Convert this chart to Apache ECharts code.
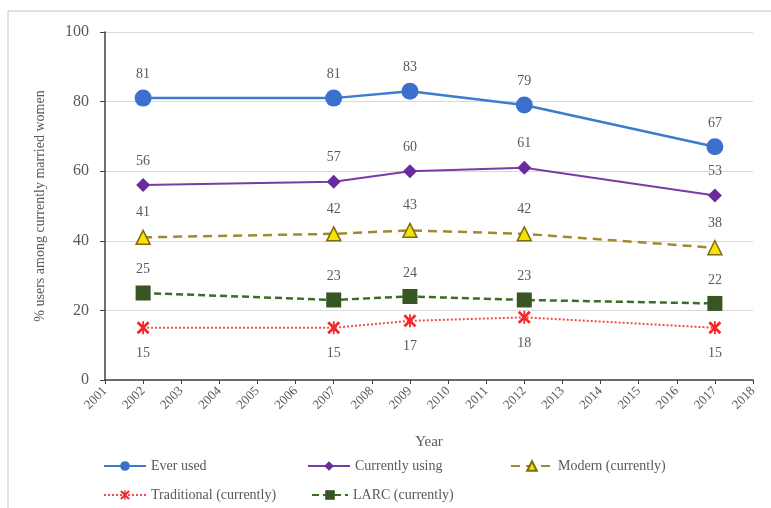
<!DOCTYPE html>
<html>
<head>
<meta charset="utf-8">
<script src="https://cdn.jsdelivr.net/npm/echarts@6/dist/echarts.min.js"></script>
<style>html,body{margin:0;padding:0;background:#fff;}#c{width:771px;height:508px;}</style>
</head>
<body>
<div id="c"></div>
<script>
const years = [2002, 2007, 2009, 2012, 2017];
const everUsed = [81, 81, 83, 79, 67];
const currentlyUsing = [56, 57, 60, 61, 53];
const modern = [41, 42, 43, 42, 38];
const traditional = [15, 15, 17, 18, 15];
const larc = [25, 23, 24, 23, 22];
const seriesNames = ['Ever used', 'Currently using', 'Modern (currently)', 'Traditional (currently)', 'LARC (currently)'];

const FONT = '"Liberation Serif", "DejaVu Serif", serif';
const TXT = '#595959';
const pairs = arr => years.map((y, i) => [y, arr[i]]);
const xStar = 'path://M0,1.5L1.5,0L5,3.5L8.5,0L10,1.5L6.5,5L10,8.5L8.5,10L5,6.5L1.5,10L0,8.5L3.5,5Z M4.3,0L5.7,0L5.7,10L4.3,10Z';

const lbl = (pos, dist) => ({show: true, position: pos, distance: dist, color: TXT, fontFamily: FONT, fontSize: 14});

const chart = echarts.init(document.getElementById('c'));
chart.setOption({
  animation: false,
  backgroundColor: '#fff',
  graphic: [{type: 'rect', shape: {x: 8, y: 11, width: 800, height: 520}, style: {fill: 'none', stroke: '#d9d9d9', lineWidth: 1.5}, silent: true}],
  grid: {left: 105, right: 18, top: 32, bottom: 128},
  xAxis: {
    type: 'value', min: 2001, max: 2018, interval: 1,
    name: 'Year', nameLocation: 'middle', nameGap: 55,
    nameTextStyle: {fontFamily: FONT, fontSize: 15, color: TXT},
    axisLine: {lineStyle: {color: '#404040', width: 1.5}},
    axisTick: {show: true, length: 4, lineStyle: {color: '#404040'}},
    splitLine: {show: false},
    axisLabel: {rotate: 45, formatter: v => String(v), fontFamily: FONT, fontSize: 13, color: TXT, margin: 9}
  },
  yAxis: {
    type: 'value', min: 0, max: 100, interval: 20,
    name: '% users among currently married women', nameLocation: 'middle', nameGap: 58,
    nameTextStyle: {fontFamily: FONT, fontSize: 14, color: TXT},
    axisLine: {show: true, lineStyle: {color: '#404040', width: 1.5}},
    axisTick: {show: true, length: 5, lineStyle: {color: '#404040'}},
    splitLine: {lineStyle: {color: '#d9d9d9', width: 1}},
    axisLabel: {fontFamily: FONT, fontSize: 16, color: TXT, margin: 16}
  },
  legend: [
    {data: [seriesNames[0]], left: 98, top: 454, itemWidth: 42},
    {data: [seriesNames[1]], left: 302, top: 454, itemWidth: 42},
    {data: [seriesNames[2]], left: 505, top: 454, itemWidth: 42},
    {data: [seriesNames[3]], left: 98, top: 483, itemWidth: 42},
    {data: [seriesNames[4]], left: 306, top: 483, itemWidth: 36}
  ].map(l => Object.assign(l, {itemHeight: 12, itemGap: 6, textStyle: {fontFamily: FONT, fontSize: 14, color: TXT}})),
  series: [
    {name: seriesNames[0], type: 'line', data: pairs(everUsed), symbol: 'circle', symbolSize: 17,
      lineStyle: {color: '#3d7ccc', width: 2.5}, itemStyle: {color: '#3d6fcc'}, label: lbl('top', 8), z: 5},
    {name: seriesNames[1], type: 'line', data: pairs(currentlyUsing), symbol: 'diamond', symbolSize: 14,
      lineStyle: {color: '#7b3aa8', width: 2}, itemStyle: {color: '#6a2c9a'}, label: lbl('top', 10), z: 5},
    {name: seriesNames[2], type: 'line', data: pairs(modern), symbol: 'triangle', symbolSize: 14,
      lineStyle: {color: '#a08a2a', width: 2.5, type: [9, 6]}, itemStyle: {color: '#f5e400', borderColor: '#7f6a10', borderWidth: 1.5}, label: lbl('top', 10), z: 4},
    {name: seriesNames[3], type: 'line', data: pairs(traditional), symbol: xStar, symbolSize: 13,
      lineStyle: {color: '#f04a4a', width: 2, type: [2, 2]}, itemStyle: {color: '#f02a2a'}, label: lbl('bottom', 12), z: 3},
    {name: seriesNames[4], type: 'line', data: pairs(larc), symbol: 'rect', symbolSize: 15,
      lineStyle: {color: '#3d6b2a', width: 2.5, type: [7, 4]}, itemStyle: {color: '#375623'}, label: lbl('top', 9), z: 4}
  ]
});
</script>
</body>
</html>
